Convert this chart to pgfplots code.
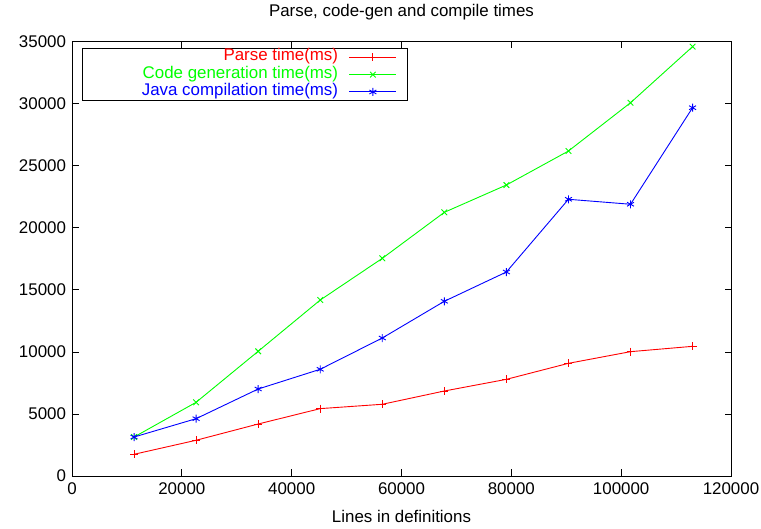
\documentclass[border=0pt]{standalone}
\usepackage{pgfplots}
\pgfplotsset{compat=1.18}
\usepackage{fontspec}
\setmainfont{Liberation Sans}
\newcommand\cf{\fontsize{16.9bp}{20bp}\selectfont}
\begin{document}
\begin{tikzpicture}
\useasboundingbox (-72bp,-53bp) rectangle (689bp,476bp);
\begin{axis}[
  at={(0,0)}, anchor=south west,
  scale only axis, width=659bp, height=434.3bp,
  xmin=0, xmax=120000, ymin=0, ymax=35000,
  xtick={0,20000,...,120000}, ytick={0,5000,...,35000},
  scaled ticks=false,
  /pgf/number format/fixed,
  /pgf/number format/precision=0,
  /pgf/number format/1000 sep={},
  /pgf/number format/assume math mode=true,
  tick label style={font=\cf},
  xticklabel style={yshift=-3.5bp},
  yticklabel style={xshift=-2.5bp},
  major tick length=6.5bp,
  tick align=inside,
  axis line style={line width=0.8bp},
  every tick/.style={black, line width=0.8bp},
  title={Parse, code-gen and compile times},
  title style={font=\cf, at={(axis description cs:0.5,1)}, anchor=base, yshift=19.7bp},
  xlabel={Lines in definitions},
  xlabel style={font=\cf, at={(axis description cs:0.5,0)}, anchor=base, yshift=-46bp},
  legend plot pos=right,
  legend cell align=right,
  legend style={at={(axis description cs:0,1)}, anchor=north west, xshift=10.3bp, yshift=-6.6bp,
    draw=black, line width=0.8bp, inner sep=0pt, row sep=0pt, column sep=0pt, font=\cf,
    nodes={inner sep=0pt, text height=12.3bp, text depth=5bp}},
  legend image code/.code={
    \path[draw=none, fill=none] (-11.3bp,0bp) -- (58bp,0bp);
    \draw[mark repeat=2, mark phase=2] plot coordinates {(0bp,0bp) (23.5bp,0bp) (47bp,0bp)};
  },
  every axis plot/.append style={line width=0.9bp, mark size=4bp, mark options={line width=0.9bp}},
]
\addplot[red, mark=+] coordinates {
 (11300,1750) (22600,2880) (33900,4190) (45200,5430) (56500,5780)
 (67800,6850) (79100,7790) (90400,9080) (101700,10020) (113000,10450)};
\addlegendentry{\makebox[255.4bp][r]{\textcolor{red}{Parse time(ms)}}}
\addplot[green, mark=x] coordinates {
 (11300,3140) (22600,5940) (33900,10050) (45200,14180) (56500,17540)
 (67800,21250) (79100,23450) (90400,26190) (101700,30080) (113000,34600)};
\addlegendentry{\makebox[255.4bp][r]{\textcolor{green}{Code generation time(ms)}}}
\addplot[blue, mark=asterisk] coordinates {
 (11300,3140) (22600,4620) (33900,7010) (45200,8600) (56500,11120)
 (67800,14080) (79100,16440) (90400,22300) (101700,21900) (113000,29680)};
\addlegendentry{\makebox[255.4bp][r]{\textcolor{blue}{Java compilation time(ms)}}}
\end{axis}
\end{tikzpicture}
\end{document}
